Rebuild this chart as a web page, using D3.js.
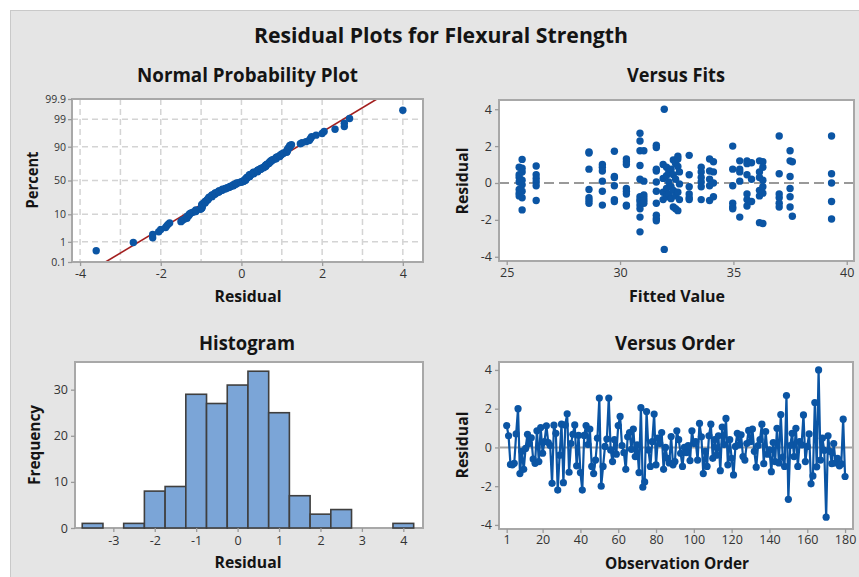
<!DOCTYPE html>
<html><head><meta charset="utf-8">
<script src="https://cdn.jsdelivr.net/npm/d3@7"></script>
<style>body{margin:0;background:#fff;} svg{display:block;}</style>
</head><body>
<svg id="chart" width="859" height="577"></svg>
<script>
// ---------------- DATA ----------------
const mainTitle = "Residual Plots for Flexural Strength";
const panelTitles = ["Normal Probability Plot", "Versus Fits", "Histogram", "Versus Order"];

// residuals in observation order
const residuals = [
 1.13, 0.6, -0.88, -0.9, -0.82, 0.7, 2.0, -1.35, -0.2, -1.13,
 -0.05, 0.68, 0.2, 0.5, -0.6, -0.82, 0.86, -0.73, 1.03, -0.3,
 0.3, 1.12, 0.25, 0.1, -1.85, 1.15, 0.73, -2.2, -0.4, 1.2,
 -1.82, 1.16, 1.74, -1.28, 0.2, 0.68, 1.16, -0.95, 0.63, -1.3,
 -2.2, 0.62, 1.13, 0.15, 0.95, -0.98, -1.35, -0.65, 0.48, 2.55,
 -2.0, -0.98, 0.05, 0.43, 2.55, -0.13, -0.73, 0.4, -0.35, 1.13,
 1.6, 0.1, -0.27, -1.13, 0.55, 0.77, -0.1, 0.95, -0.47, 0.13,
 -1.3, 2.05, -2.05, -1.78, 1.85, -0.13, -0.98, 0.3, 1.72, -0.9,
 0.48, 0.2, 0.77, -1.13, 0.0, -0.56, -0.8, 0.56, -0.9, -0.73,
 0.86, 0.4, -0.3, -0.98, 0.0, -0.27, 0.1, -0.68, 0.86, 0.2,
 0.3, -0.65, 1.24, 0.55, -1.35, -0.2, -0.98, 0.6, 1.2, -0.56,
 0.4, -0.4, 0.6, -1.2, 1.05, 0.15, 1.5, -0.9, 0.4, -0.56,
 -1.42, 0.05, 0.73, 0.13, 0.65, -0.47, -0.65, 0.2, 0.88, 0.3,
 0.95, -0.2, -1.02, 0.1, 0.4, 1.2, -0.84, 0.82, -0.35, -0.13,
 -1.25, 0.25, -0.73, 0.99, -0.8, 1.7, -0.5, -0.98, 2.68, -2.68,
 0.1, 0.73, -0.47, 0.99, -0.98, 0.3, 0.13, 1.68, -0.73, 0.05,
 0.7, -1.88, -1.47, 2.32, -1.0, 4.0, -0.65, 0.48, -0.15, -3.6,
 0.6, -0.2, -0.84, 0.2, -0.8, -0.56, -0.95, -0.85, 1.46, -1.5
];

// Versus Fits panel: fitted value and residual of each point
const fittedValues = [
 25.55,25.55,25.55,25.55,25.55,25.55,25.55,
 25.68,25.68,25.68,25.68,25.68,25.68,25.68,25.68,
 26.3,26.3,26.3,26.3,26.3,26.3,
 28.63,28.63,28.63,28.63,28.63,28.63,28.63,
 29.22,29.22,29.22,29.22,29.22,29.22,
 29.75,29.75,29.75,29.75,29.75,29.75,
 30.28,30.28,30.28,30.28,30.28,30.28,30.28,30.28,
 30.88,30.88,30.88,30.88,30.88,30.88,30.88,30.88,30.88,30.88,30.88,30.88,
 31.05,31.05,31.05,31.05,31.05,31.05,
 31.6,31.6,31.6,31.6,31.6,31.6,31.6,31.6,31.6,31.6,
 31.95,31.95,
 31.9,31.9,31.9,31.9,
 32.05,32.05,32.05,32.05,
 32.15,32.15,32.15,
 32.25,32.25,32.25,
 32.35,32.35,32.35,32.35,
 32.45,32.45,32.45,32.45,
 32.55,32.55,32.55,32.55,32.55,
 32.62,32.62,32.62,
 33.05,33.05,33.05,33.05,33.05,33.05,
 33.58,33.58,33.58,33.58,33.58,33.58,
 33.95,33.95,33.95,33.95,33.95,
 34.12,34.12,34.12,34.12,
 34.97,34.97,34.97,34.97,34.97,34.97,
 35.28,35.28,35.28,35.28,35.28,
 35.6,35.6,35.6,35.6,35.6,35.6,
 35.8,35.8,35.8,
 36.15,36.15,36.15,36.15,36.15,36.15,
 36.3,36.3,36.3,36.3,36.3,36.3,
 37.02,37.02,37.02,37.02,37.02,37.02,
 37.5,37.5,37.5,37.5,37.5,37.5,
 37.6,37.6,
 39.33,39.33,39.33,39.33,39.33
];
const fitResiduals = [
 0.85,0.45,0.3,0.05,-0.35,-0.55,-0.7,
 1.28,0.8,0.6,0.15,-0.1,-0.45,-0.8,-1.46,
 0.92,0.45,0.25,0.05,-0.15,-0.95,
 1.68,1.62,0.75,-0.35,-0.8,-0.95,-1.1,
 1.0,0.85,0.65,0.1,-0.45,-1.2,
 1.72,0.35,0.3,-0.15,-0.9,-1.0,
 1.3,1.15,1.0,-0.3,-0.45,-0.6,-1.2,-1.25,
 2.7,2.28,1.75,0.95,0.2,-0.75,-0.9,-1.0,-1.2,-1.4,-1.85,-2.65,
 1.75,0.1,-0.65,-0.8,-0.95,-1.1,
 2.05,1.92,0.75,0.65,0.05,-0.45,-1.1,-1.75,-1.92,-2.05,
 4.0,-3.6,
 1.0,0.25,-0.5,-0.9,
 0.85,0.4,-0.3,-0.75,
 0.6,0.05,-0.6,
 0.75,-0.2,-0.85,
 1.25,0.45,-0.4,-1.3,
 1.05,0.2,-0.7,-1.4,
 1.45,1.3,0.9,-0.5,-1.5,
 0.6,-0.05,-0.9,
 1.5,0.45,-0.2,-0.6,-0.8,-0.9,
 0.85,0.6,0.3,0.05,-0.2,-0.9,
 1.3,0.65,0.2,-0.15,-0.95,
 1.15,0.6,0.0,-0.75,
 2.0,0.75,-0.15,-1.1,-1.3,-1.4,
 1.2,0.75,0.6,0.1,-1.85,
 1.2,1.05,0.45,-0.6,-0.9,-1.25,
 1.1,0.2,-1.0,
 1.2,0.6,0.3,-0.4,-0.7,-2.15,
 1.15,0.85,0.15,-0.2,-0.55,-2.2,
 2.55,0.5,-0.6,-0.8,-1.1,-1.3,
 1.75,1.2,0.35,-0.3,-0.75,-1.3,
 1.15,-1.8,
 2.55,0.5,0.0,-1.0,-1.95
];

// Histogram (bin centres and frequencies)
const histBinCenters = [-3.5,-3,-2.5,-2,-1.5,-1,-0.5,0,0.5,1,1.5,2,2.5,3,3.5,4];
const histCounts     = [1,0,1,8,9,29,27,31,34,25,7,3,4,0,0,1];
const histBinWidth = 0.5;

// tick values / labels
const probTicks = [0.1, 1, 10, 50, 90, 99, 99.9];
const probTickLabels = ["0.1", "1", "10", "50", "90", "99", "99.9"];
const probGridTicks = [1, 10, 50, 90, 99];
const normalXTicks = [-4, -2, 0, 2, 4];
const normalXGrid = [-4, -3, -2, -1, 0, 1, 2, 3, 4];
const fitXTicks = [25, 30, 35, 40];
const residTicks = [-4, -2, 0, 2, 4];
const histXTicks = [-3, -2, -1, 0, 1, 2, 3, 4];
const histYTicks = [0, 10, 20, 30];
const orderXTicks = [1, 20, 40, 60, 80, 100, 120, 140, 160, 180];

// ---------------- HELPERS ----------------
const FONT = "'Open Sans','Noto Sans','DejaVu Sans',sans-serif";
const BLUE = "#0b55a4";
const fmt = d => String(d);   // plain hyphen-minus, as in the reference

function normInv(p) {
  const a=[-3.969683028665376e+01,2.209460984245205e+02,-2.759285104469687e+02,1.383577518672690e+02,-3.066479806614716e+01,2.506628277459239e+00];
  const b=[-5.447609879822406e+01,1.615858368580409e+02,-1.556989798598866e+02,6.680131188771972e+01,-1.328068155288572e+01];
  const c=[-7.784894002430293e-03,-3.223964580411365e-01,-2.400758277161838e+00,-2.549671348804135e+00,4.374664141464968e+00,2.938163982698783e+00];
  const d=[7.784695709041462e-03,3.224671290700398e-01,2.445134137142996e+00,3.754408661907416e+00];
  const pl=0.02425, ph=1-pl; let q, r;
  if (p < pl) { q=Math.sqrt(-2*Math.log(p)); return (((((c[0]*q+c[1])*q+c[2])*q+c[3])*q+c[4])*q+c[5])/((((d[0]*q+d[1])*q+d[2])*q+d[3])*q+1); }
  if (p <= ph) { q=p-0.5; r=q*q; return (((((a[0]*r+a[1])*r+a[2])*r+a[3])*r+a[4])*r+a[5])*q/(((((b[0]*r+b[1])*r+b[2])*r+b[3])*r+b[4])*r+1); }
  q=Math.sqrt(-2*Math.log(1-p)); return -(((((c[0]*q+c[1])*q+c[2])*q+c[3])*q+c[4])*q+c[5])/((((d[0]*q+d[1])*q+d[2])*q+d[3])*q+1);
}

const svg = d3.select("#chart");
svg.append("rect").attr("x",10.5).attr("y",10.5).attr("width",850).attr("height",568)
   .attr("fill","#e5e5e5").attr("stroke","#c9c9c9").attr("stroke-width",1);

function boldText(text, x, y, size, width, rotate) {
  const t = svg.append("text").attr("text-anchor","middle")
    .attr("font-family",FONT).attr("font-weight","bold").attr("font-size",size)
    .attr("fill","#141414").text(text);
  if (rotate) t.attr("transform",`translate(${x},${y}) rotate(-90)`);
  else t.attr("x",x).attr("y",y);
  if (width) t.attr("textLength",width).attr("lengthAdjust","spacingAndGlyphs");
  return t;
}
function plotBg(p){
  svg.append("rect").attr("x",p.x0).attr("y",p.y0).attr("width",p.x1-p.x0).attr("height",p.y1-p.y0).attr("fill","#fff");
}
function plotFrame(p){
  svg.append("rect").attr("x",p.x0).attr("y",p.y0).attr("width",p.x1-p.x0).attr("height",p.y1-p.y0)
    .attr("fill","none").attr("stroke","#a8a8a8").attr("stroke-width",2);
}
function styleAxis(g, fs){
  g.select(".domain").remove();
  g.selectAll(".tick line").attr("stroke","#9a9a9a").attr("stroke-width",1.3);
  g.selectAll(".tick text").attr("fill","#333").attr("font-family",FONT).attr("font-size",fs||12.5);
}
function clip(id, p){
  svg.append("clipPath").attr("id",id).append("rect")
    .attr("x",p.x0).attr("y",p.y0).attr("width",p.x1-p.x0).attr("height",p.y1-p.y0);
}

boldText(mainTitle, 441, 43, 21, 374);

// ---------------- PANEL 1: Normal probability plot ----------------
{
  const p = {x0:72, x1:423, y0:99, y1:262};
  plotBg(p); clip("c1", p);
  const x = d3.scaleLinear().domain([-4.2, 4.5]).range([p.x0, p.x1]);
  const y = d3.scaleLinear().domain([normInv(0.001), normInv(0.999)]).range([p.y1, p.y0]);
  const yp = v => y(normInv(v/100));
  const grid = svg.append("g").attr("stroke","#d4d4d4").attr("stroke-width",1.5).attr("stroke-dasharray","6,4");
  grid.selectAll("line.v").data(normalXGrid).join("line").attr("class","v")
    .attr("x1",d=>x(d)).attr("x2",d=>x(d)).attr("y1",p.y0).attr("y2",p.y1);
  grid.selectAll("line.h").data(probGridTicks).join("line").attr("class","h")
    .attr("x1",p.x0).attr("x2",p.x1).attr("y1",d=>yp(d)).attr("y2",d=>yp(d));

  const n = residuals.length;
  const sorted = residuals.slice().sort(d3.ascending);
  const pts = sorted.map((v,i)=>({v, z: normInv((i+1-0.3)/(n+0.4))}));
  const mean = d3.mean(residuals), sd = d3.deviation(residuals);
  const zl = [normInv(0.001), normInv(0.999)];
  svg.append("line").attr("clip-path","url(#c1)")
    .attr("x1",x(mean+sd*zl[0])).attr("y1",y(zl[0]))
    .attr("x2",x(mean+sd*zl[1])).attr("y2",y(zl[1]))
    .attr("stroke","#a31f1f").attr("stroke-width",1.6);
  svg.append("g").selectAll("circle").data(pts).join("circle")
    .attr("cx",d=>x(d.v)).attr("cy",d=>y(d.z)).attr("r",3.7).attr("fill",BLUE);
  plotFrame(p);
  const gx = svg.append("g").attr("transform",`translate(0,${p.y1})`)
    .call(d3.axisBottom(x).tickValues(normalXTicks).tickFormat(fmt).tickSize(4).tickPadding(3));
  styleAxis(gx);
  const gy = svg.append("g").attr("transform",`translate(${p.x0},0)`)
    .call(d3.axisLeft(y).tickValues(probTicks.map(v=>normInv(v/100)))
      .tickFormat((d,i)=>probTickLabels[i]).tickSize(4).tickPadding(2));
  styleAxis(gy, 10.5);
  boldText(panelTitles[0], 247.5, 82, 19, 221);
  boldText("Residual", 248, 301.5, 16, 67);
  boldText("Percent", 38, 180, 16, 57, true);
}

// ---------------- PANEL 2: Versus fits ----------------
{
  const p = {x0:499, x1:854, y0:100, y1:261};
  plotBg(p);
  const x = d3.scaleLinear().domain([24.66, 40.32]).range([p.x0, p.x1]);
  const y = d3.scaleLinear().domain([-4.23, 4.5]).range([p.y1, p.y0]);
  svg.append("line").attr("x1",p.x0).attr("x2",p.x1).attr("y1",y(0)).attr("y2",y(0))
    .attr("stroke","#999").attr("stroke-width",2).attr("stroke-dasharray","10,5");
  svg.append("g").selectAll("circle").data(fittedValues.map((f,i)=>[f,fitResiduals[i]])).join("circle")
    .attr("cx",d=>x(d[0])).attr("cy",d=>y(d[1])).attr("r",3.7).attr("fill",BLUE);
  plotFrame(p);
  styleAxis(svg.append("g").attr("transform",`translate(0,${p.y1})`)
    .call(d3.axisBottom(x).tickValues(fitXTicks).tickFormat(fmt).tickSize(4).tickPadding(3)));
  styleAxis(svg.append("g").attr("transform",`translate(${p.x0},0)`)
    .call(d3.axisLeft(y).tickValues(residTicks).tickFormat(fmt).tickSize(4).tickPadding(3)));
  boldText(panelTitles[1], 676, 82, 19, 98);
  boldText("Fitted Value", 677, 301.5, 16, 96);
  boldText("Residual", 468, 181, 16, 67, true);
}

// ---------------- PANEL 3: Histogram ----------------
{
  const p = {x0:75, x1:423, y0:362, y1:528};
  plotBg(p);
  const x = d3.scaleLinear().domain([-3.925, 4.475]).range([p.x0, p.x1]);
  const y = d3.scaleLinear().domain([0, 36]).range([p.y1, p.y0]);
  plotFrame(p);
  svg.append("g").selectAll("rect").data(histBinCenters.map((c,i)=>({c, n:histCounts[i]}))).join("rect")
    .attr("x",d=>x(d.c-histBinWidth/2)).attr("width",d=>x(d.c+histBinWidth/2)-x(d.c-histBinWidth/2))
    .attr("y",d=>y(d.n)).attr("height",d=>y(0)-y(d.n))
    .attr("fill","#7ba5d7").attr("stroke","#3f3f3f").attr("stroke-width",1.6);
  styleAxis(svg.append("g").attr("transform",`translate(0,${p.y1})`)
    .call(d3.axisBottom(x).tickValues(histXTicks).tickFormat(fmt).tickSize(4).tickPadding(4)));
  styleAxis(svg.append("g").attr("transform",`translate(${p.x0},0)`)
    .call(d3.axisLeft(y).tickValues(histYTicks).tickFormat(fmt).tickSize(4).tickPadding(3)));
  boldText(panelTitles[2], 247, 349.5, 19, 96);
  boldText("Residual", 248, 568, 16, 67);
  boldText("Frequency", 40, 445, 16, 80, true);
}

// ---------------- PANEL 4: Versus order ----------------
{
  const p = {x0:499, x1:853, y0:362, y1:529};
  plotBg(p);
  const x = d3.scaleLinear().domain([-3.07, 184.2]).range([p.x0, p.x1]);
  const y = d3.scaleLinear().domain([-4.21, 4.41]).range([p.y1, p.y0]);
  svg.append("line").attr("x1",p.x0).attr("x2",p.x1).attr("y1",y(0)).attr("y2",y(0))
    .attr("stroke","#a3a3a3").attr("stroke-width",2);
  const line = d3.line().x((d,i)=>x(i+1)).y(d=>y(d));
  svg.append("path").datum(residuals).attr("d",line).attr("fill","none")
    .attr("stroke",BLUE).attr("stroke-width",2.2);
  svg.append("g").selectAll("circle").data(residuals).join("circle")
    .attr("cx",(d,i)=>x(i+1)).attr("cy",d=>y(d)).attr("r",3.6).attr("fill",BLUE);
  plotFrame(p);
  styleAxis(svg.append("g").attr("transform",`translate(0,${p.y1})`)
    .call(d3.axisBottom(x).tickValues(orderXTicks).tickFormat(fmt).tickSize(4).tickPadding(2)));
  styleAxis(svg.append("g").attr("transform",`translate(${p.x0},0)`)
    .call(d3.axisLeft(y).tickValues(residTicks).tickFormat(fmt).tickSize(4).tickPadding(3)));
  boldText(panelTitles[3], 675, 349.5, 19, 120);
  boldText("Observation Order", 677, 568.5, 16, 144);
  boldText("Residual", 468, 445, 16, 67, true);
}
</script>
</body></html>
